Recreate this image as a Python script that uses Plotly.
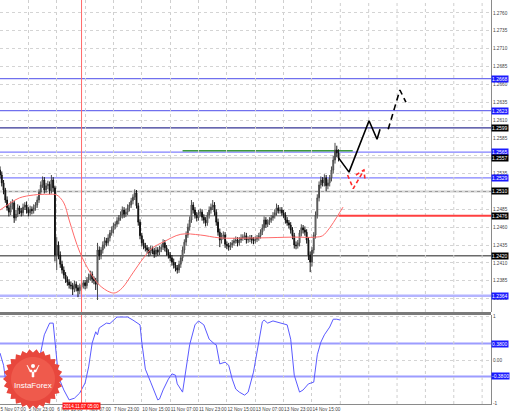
import math
import plotly.graph_objects as go

# ---------------- data ----------------
closes = [1.2533,1.2522,1.2512,1.2498,1.2487,1.2481,1.2490,1.2494,1.2473,1.2478,1.2487,1.2483,
          1.2480,1.2488,1.2491,1.2484,1.2480,1.2485,1.2483,1.2487,1.2491,1.2498,1.2509,1.2519,
          1.2526,1.2512,1.2518,1.2520,1.2511,1.2526,1.2515,1.2421,1.2435,1.2421,1.2408,1.2400,
          1.2393,1.2387,1.2383,1.2379,1.2378,1.2373,1.2380,1.2375,1.2371,1.2376,1.2379,1.2382,
          1.2378,1.2386,1.2390,1.2394,1.2387,1.2385,1.2380,1.2428,1.2420,1.2428,1.2435,1.2441,
          1.2438,1.2445,1.2452,1.2456,1.2462,1.2464,1.2469,1.2473,1.2477,1.2484,1.2478,1.2481,
          1.2487,1.2491,1.2497,1.2502,1.2508,1.2490,1.2467,1.2448,1.2438,1.2434,1.2431,1.2428,
          1.2424,1.2429,1.2427,1.2422,1.2428,1.2425,1.2429,1.2432,1.2438,1.2431,1.2425,1.2421,
          1.2417,1.2411,1.2407,1.2403,1.2400,1.2408,1.2417,1.2428,1.2439,1.2449,1.2460,1.2470,
          1.2491,1.2484,1.2477,1.2473,1.2480,1.2481,1.2474,1.2470,1.2466,1.2477,1.2484,1.2488,
          1.2491,1.2481,1.2467,1.2453,1.2442,1.2448,1.2449,1.2436,1.2434,1.2432,1.2435,1.2438,
          1.2441,1.2442,1.2438,1.2442,1.2445,1.2446,1.2448,1.2442,1.2443,1.2445,1.2442,1.2441,
          1.2443,1.2445,1.2448,1.2453,1.2459,1.2470,1.2464,1.2467,1.2470,1.2473,1.2476,1.2480,
          1.2487,1.2483,1.2484,1.2480,1.2477,1.2470,1.2466,1.2463,1.2456,1.2448,1.2435,1.2434,
          1.2438,1.2452,1.2459,1.2456,1.2453,1.2442,1.2421,1.2411,1.2428,1.2449,1.2477,1.2501,
          1.2519,1.2526,1.2522,1.2529,1.2518,1.2522,1.2529,1.2540,1.2554,1.2568,1.2564,1.2557]

opens = [1.2540,1.2533,1.2522,1.2512,1.2498,1.2487,1.2481,1.2490,1.2494,1.2473,1.2478,1.2487,
         1.2483,1.2480,1.2488,1.2491,1.2484,1.2480,1.2485,1.2483,1.2487,1.2491,1.2498,1.2509,
         1.2519,1.2526,1.2512,1.2518,1.2520,1.2511,1.2526,1.2515,1.2421,1.2435,1.2421,1.2408,
         1.2400,1.2393,1.2387,1.2383,1.2379,1.2378,1.2373,1.2380,1.2375,1.2371,1.2376,1.2379,
         1.2382,1.2378,1.2386,1.2390,1.2394,1.2387,1.2385,1.2380,1.2428,1.2420,1.2428,1.2435,
         1.2441,1.2438,1.2445,1.2452,1.2456,1.2462,1.2464,1.2469,1.2473,1.2477,1.2484,1.2478,
         1.2481,1.2487,1.2491,1.2497,1.2502,1.2508,1.2490,1.2467,1.2448,1.2438,1.2434,1.2431,
         1.2428,1.2424,1.2429,1.2427,1.2422,1.2428,1.2425,1.2429,1.2432,1.2438,1.2431,1.2425,
         1.2421,1.2417,1.2411,1.2407,1.2403,1.2400,1.2408,1.2417,1.2428,1.2439,1.2449,1.2460,
         1.2470,1.2491,1.2484,1.2477,1.2473,1.2480,1.2481,1.2474,1.2470,1.2466,1.2477,1.2484,
         1.2488,1.2491,1.2481,1.2467,1.2453,1.2442,1.2448,1.2449,1.2436,1.2434,1.2432,1.2435,
         1.2438,1.2441,1.2442,1.2438,1.2442,1.2445,1.2446,1.2448,1.2442,1.2443,1.2445,1.2442,
         1.2441,1.2443,1.2445,1.2448,1.2453,1.2459,1.2470,1.2464,1.2467,1.2470,1.2473,1.2476,
         1.2480,1.2487,1.2483,1.2484,1.2480,1.2477,1.2470,1.2466,1.2463,1.2456,1.2448,1.2435,
         1.2434,1.2438,1.2452,1.2459,1.2456,1.2453,1.2442,1.2421,1.2411,1.2428,1.2449,1.2477,
         1.2501,1.2519,1.2526,1.2522,1.2529,1.2518,1.2522,1.2529,1.2540,1.2554,1.2568,1.2564]

highs = [1.2545,1.2538,1.2526,1.2515,1.2503,1.2492,1.2496,1.2499,1.2497,1.2484,1.2492,1.2490,
         1.2487,1.2493,1.2495,1.2496,1.2488,1.2490,1.2489,1.2492,1.2495,1.2503,1.2513,1.2524,
         1.2531,1.2530,1.2522,1.2525,1.2524,1.2533,1.2530,1.2518,1.2446,1.2440,1.2426,1.2413,
         1.2405,1.2397,1.2391,1.2387,1.2384,1.2382,1.2385,1.2384,1.2379,1.2381,1.2383,1.2386,
         1.2386,1.2390,1.2395,1.2399,1.2398,1.2391,1.2389,1.2438,1.2433,1.2432,1.2440,1.2446,
         1.2445,1.2450,1.2456,1.2461,1.2466,1.2468,1.2474,1.2477,1.2482,1.2489,1.2488,1.2486,
         1.2492,1.2495,1.2501,1.2506,1.2513,1.2512,1.2494,1.2471,1.2452,1.2443,1.2438,1.2435,
         1.2432,1.2434,1.2433,1.2431,1.2433,1.2432,1.2434,1.2436,1.2443,1.2442,1.2435,1.2429,
         1.2425,1.2421,1.2416,1.2411,1.2407,1.2413,1.2421,1.2433,1.2443,1.2454,1.2465,1.2475,
         1.2498,1.2495,1.2488,1.2481,1.2484,1.2486,1.2485,1.2478,1.2474,1.2481,1.2489,1.2493,
         1.2498,1.2495,1.2485,1.2472,1.2458,1.2452,1.2454,1.2453,1.2440,1.2438,1.2439,1.2442,
         1.2445,1.2447,1.2446,1.2446,1.2450,1.2450,1.2453,1.2452,1.2447,1.2449,1.2449,1.2446,
         1.2447,1.2449,1.2452,1.2457,1.2464,1.2475,1.2474,1.2471,1.2474,1.2477,1.2481,1.2485,
         1.2493,1.2491,1.2488,1.2488,1.2484,1.2481,1.2474,1.2470,1.2467,1.2460,1.2452,1.2440,
         1.2442,1.2456,1.2464,1.2463,1.2461,1.2457,1.2446,1.2426,1.2432,1.2453,1.2482,1.2506,
         1.2524,1.2531,1.2530,1.2534,1.2533,1.2527,1.2533,1.2545,1.2560,1.2578,1.2574,1.2569]

lows = [1.2528,1.2517,1.2506,1.2494,1.2483,1.2475,1.2477,1.2485,1.2466,1.2469,1.2474,1.2478,
        1.2475,1.2476,1.2484,1.2479,1.2475,1.2476,1.2478,1.2479,1.2483,1.2487,1.2494,1.2505,
        1.2515,1.2507,1.2508,1.2513,1.2506,1.2507,1.2510,1.2412,1.2400,1.2415,1.2403,1.2395,
        1.2388,1.2382,1.2378,1.2374,1.2373,1.2365,1.2369,1.2370,1.2362,1.2366,1.2372,1.2374,
        1.2373,1.2374,1.2382,1.2385,1.2382,1.2380,1.2372,1.2358,1.2414,1.2415,1.2423,1.2430,
        1.2433,1.2434,1.2440,1.2448,1.2451,1.2457,1.2460,1.2464,1.2469,1.2472,1.2473,1.2474,
        1.2477,1.2482,1.2487,1.2492,1.2498,1.2486,1.2462,1.2443,1.2433,1.2429,1.2426,1.2423,
        1.2419,1.2420,1.2422,1.2417,1.2418,1.2420,1.2421,1.2425,1.2428,1.2426,1.2420,1.2416,
        1.2412,1.2406,1.2402,1.2398,1.2395,1.2396,1.2403,1.2412,1.2423,1.2434,1.2445,1.2455,
        1.2466,1.2479,1.2472,1.2468,1.2469,1.2475,1.2469,1.2465,1.2461,1.2462,1.2472,1.2479,
        1.2484,1.2476,1.2462,1.2448,1.2432,1.2437,1.2443,1.2431,1.2429,1.2427,1.2428,1.2431,
        1.2434,1.2437,1.2433,1.2434,1.2438,1.2441,1.2442,1.2437,1.2438,1.2439,1.2437,1.2436,
        1.2437,1.2439,1.2441,1.2444,1.2449,1.2455,1.2459,1.2460,1.2463,1.2466,1.2469,1.2472,
        1.2476,1.2479,1.2479,1.2476,1.2473,1.2465,1.2462,1.2458,1.2451,1.2443,1.2430,1.2429,
        1.2430,1.2433,1.2447,1.2451,1.2448,1.2437,1.2414,1.2397,1.2405,1.2423,1.2444,1.2472,
        1.2496,1.2514,1.2517,1.2517,1.2510,1.2513,1.2517,1.2524,1.2535,1.2549,1.2558,1.2552]

bars = list(range(len(closes)))

# red moving-average curve
ma_x = [0, 6, 11, 19, 27, 32, 36, 39, 45, 51, 56, 62, 65, 69, 75, 81, 86, 92, 102, 113,
        124, 147, 165, 178, 182, 186, 190, 193.5]
ma_y = [1.2484, 1.2494, 1.2501, 1.2505, 1.2506, 1.2505, 1.2494, 1.2470, 1.2425, 1.2396,
        1.2379, 1.2369, 1.2368, 1.2375, 1.2396, 1.2417, 1.2431, 1.2439, 1.2450, 1.2449,
        1.2445, 1.2445, 1.2446, 1.2446, 1.2448, 1.2459, 1.2474, 1.2488]

# oscillator (lower panel)
osc_x = [0, 2, 3, 6, 8, 11, 14, 17, 20, 23, 25, 28, 30, 31, 33, 36, 39, 42, 45, 48, 50, 52,
         54, 55, 56, 60, 62, 66, 72, 75, 79, 80, 82, 85, 89, 90, 92, 95, 97, 99, 100, 103,
         104, 107, 110, 112, 115, 118, 121, 122, 124, 127, 129, 131, 133, 135, 138, 140, 143,
         146, 148, 149, 151, 154, 158, 162, 164, 166, 169, 171, 174, 177, 179, 181, 183, 186,
         188, 190, 192]
osc_y = [0.16, -0.12, -0.41, -0.69, -0.85, -0.90, -0.81, -0.53, -0.18, 0.18, 0.58, 0.85,
         0.85, 0.39, -0.39, -0.69, -0.92, -0.88, -0.76, -0.53, -0.16, 0.39, 0.65, 0.58, 0.74,
         0.85, 0.84, 0.99, 0.99, 0.92, 0.81, 0.41, -0.21, -0.51, -0.92, -0.90, -0.69, -0.44,
         -0.32, -0.35, -0.55, -0.74, -0.44, 0.35, 0.81, 0.90, 0.81, 0.48, 0.37, 0.35, -0.09,
         -0.05, -0.12, -0.44, -0.67, -0.74, -0.81, -0.74, -0.28, 0.41, 0.88, 0.92, 0.85, 0.90,
         0.85, 0.81, 0.48, -0.35, -0.74, -0.69, -0.55, -0.51, 0.12, 0.41, 0.58, 0.76, 0.94,
         0.94, 0.92]
osc_levels = [0.38, -0.38]
osc_level_text = ["0.3800", "-0.3800"]

# horizontal levels
blue_levels = [1.2668, 1.2623, 1.2565, 1.2529]
navy_level = 1.2599
support_level = 1.2364
gray_levels = [1.2510, 1.2476, 1.2420]
red_level = 1.2476
red_level_start = 191
green_level = 1.2567
green_start, green_end = 103, 199
bid_price = 1.2557

# forecast drawings
fc_solid_x = [191, 196.9, 208.2, 212.7, 214.4]
fc_solid_y = [1.2557, 1.2537, 1.2609, 1.2583, 1.2597]
fc_dash_x = [219.0, 225.6, 229.0]
fc_dash_y = [1.2597, 1.2652, 1.2635]
fc_red_x = [196.1, 199.3, 205.3]
fc_red_y = [1.2533, 1.2514, 1.2540]
fc_red_head_x = [200.8, 205.3, 205.9]
fc_red_head_y = [1.2533, 1.2540, 1.2527]

# axes
time_ticks = [0, 16, 32, 48, 64, 80, 96, 112, 128, 144, 160, 176]
time_labels = ["5 Nov 07:00", "5 Nov 23:00", "6 Nov 15:00", "7 Nov 07:00", "7 Nov 23:00",
               "10 Nov 15:00", "11 Nov 07:00", "11 Nov 23:00", "12 Nov 15:00",
               "13 Nov 07:00", "13 Nov 23:00", "14 Nov 15:00"]
future_grid = [192, 208, 224, 240, 256, 272]
price_ticks = [1.2760, 1.2735, 1.2710, 1.2685, 1.2660, 1.2635, 1.2610, 1.2585, 1.2560,
               1.2535, 1.2510, 1.2485, 1.2460, 1.2435, 1.2410, 1.2385, 1.2360]
marker_bar = 46
marker_label = "2014.11.07 05:00"

# ---------------- figure ----------------
W, H = 510, 413
ML, MR, MT, MB = 0, 19, 0, 9
PW, PH = W - ML - MR, H - MT - MB
FONT = "Liberation Sans"

def py2paper(py):
    return (PH - py) / PH

def px2paper(px):
    return px / PW

fig = go.Figure()

fig.add_trace(go.Candlestick(
    x=bars, open=opens, high=highs, low=lows, close=closes,
    increasing=dict(line=dict(color="#4a4a4a", width=1), fillcolor="#c0c0c0"),
    decreasing=dict(line=dict(color="#111111", width=1), fillcolor="#111111"),
    whiskerwidth=0, xaxis="x", yaxis="y", showlegend=False, hoverinfo="skip"))

fig.add_trace(go.Scatter(x=ma_x, y=ma_y, mode="lines", line=dict(color="#ff6a6a", width=1, shape="spline"),
                         xaxis="x", yaxis="y", showlegend=False, hoverinfo="skip"))

fig.add_trace(go.Scatter(x=fc_solid_x, y=fc_solid_y, mode="lines", line=dict(color="#000000", width=1.6),
                         xaxis="x", yaxis="y", showlegend=False, hoverinfo="skip"))
fig.add_trace(go.Scatter(x=fc_dash_x, y=fc_dash_y, mode="lines", line=dict(color="#000000", width=1.6, dash="6px,4px"),
                         xaxis="x", yaxis="y", showlegend=False, hoverinfo="skip"))
fig.add_trace(go.Scatter(x=fc_red_x, y=fc_red_y, mode="lines", line=dict(color="#ff2a2a", width=1.6, dash="4px,3px"),
                         xaxis="x", yaxis="y", showlegend=False, hoverinfo="skip"))
fig.add_trace(go.Scatter(x=fc_red_head_x, y=fc_red_head_y, mode="lines", line=dict(color="#ff2a2a", width=1.6, dash="4px,3px"),
                         xaxis="x", yaxis="y", showlegend=False, hoverinfo="skip"))

fig.add_trace(go.Scatter(x=osc_x, y=osc_y, mode="lines", line=dict(color="#5a5aff", width=1),
                         xaxis="x2", yaxis="y2", showlegend=False, hoverinfo="skip"))

shapes = []
def hline(y, color, width, x0=None, x1=None, yref="y", dash=None):
    d = dict(type="line", yref=yref, y0=y, y1=y, line=dict(color=color, width=width))
    if dash:
        d["line"]["dash"] = dash
    if x0 is None:
        d.update(xref="paper", x0=0, x1=1)
    else:
        d.update(xref="x", x0=x0, x1=x1)
    d["layer"] = "below"
    shapes.append(d)

hline(bid_price, "#c8c8c8", 1)
for lv in blue_levels[:2]:
    hline(lv, "#7070ee", 1.2)
for lv in blue_levels[2:]:
    hline(lv, "#8080ff", 1.4)
hline(navy_level, "#343494", 1.4)
hline(support_level, "#b4b4ff", 2.5)
hline(gray_levels[0], "#9a9a9a", 1.5)
hline(gray_levels[1], "#9a9a9a", 1.5, x0=0, x1=red_level_start)
hline(gray_levels[2], "#6a6a6a", 1.5)
hline(red_level, "#ff4040", 2, x0=red_level_start, x1=277)
hline(green_level, "#3c9a3c", 1.5, x0=green_start, x1=green_end)
for lv in osc_levels:
    hline(lv, "#9c9cff", 2, yref="y2")

for gx in future_grid:
    for yr in ("y", "y2"):
        shapes.append(dict(type="line", xref="x", x0=gx, x1=gx, yref=yr + " domain", y0=0, y1=1,
                           line=dict(color="#cfcfcf", width=1, dash="dot"), layer="below"))

# red vertical marker
shapes.append(dict(type="line", xref="x", x0=marker_bar, x1=marker_bar, yref="paper", y0=0, y1=1,
                   line=dict(color="#ff6a6a", width=1), layer="above"))

# panel separator
shapes.append(dict(type="rect", xref="paper", x0=0, x1=1, yref="paper",
                   y0=py2paper(315), y1=py2paper(312), fillcolor="#7a7a7a", line=dict(width=0)))

# InstaForex logo (decoration)
cx, cy, R1, R2, NT = 33, 379, 30, 26.5, 26
pts = []
for k in range(2 * NT):
    a = math.pi * k / NT
    rr = R1 if k % 2 == 0 else R2
    pts.append((px2paper(cx + rr * math.cos(a)), py2paper(cy + rr * math.sin(a))))
path = "M " + " L ".join(f"{x:.5f},{y:.5f}" for x, y in pts) + " Z"
shapes.append(dict(type="path", xref="paper", yref="paper", path=path,
                   fillcolor="#e8473d", line=dict(width=0), layer="above"))
inner = []
for k in range(60):
    a = 2 * math.pi * k / 60
    inner.append((px2paper(cx + 22 * math.cos(a)), py2paper(cy + 22 * math.sin(a))))
shapes.append(dict(type="path", xref="paper", yref="paper",
                   path="M " + " L ".join(f"{x:.5f},{y:.5f}" for x, y in inner) + " Z",
                   fillcolor="#ef5a4c", line=dict(width=0), layer="above"))
# icon
shapes.append(dict(type="circle", xref="paper", yref="paper",
                   x0=px2paper(cx - 2), x1=px2paper(cx + 2), y0=py2paper(cy - 11), y1=py2paper(cy - 15),
                   fillcolor="white", line=dict(width=0), layer="above"))
icon = [(cx - 6, cy - 14), (cx - 3, cy - 9), (cx - 1, cy - 9), (cx - 1, cy - 2), (cx + 1, cy - 2),
        (cx + 1, cy - 9), (cx + 3, cy - 9), (cx + 6, cy - 14), (cx + 3, cy - 7), (cx - 3, cy - 7)]
shapes.append(dict(type="path", xref="paper", yref="paper",
                   path="M " + " L ".join(f"{px2paper(x):.5f},{py2paper(y):.5f}" for x, y in icon) + " Z",
                   fillcolor="white", line=dict(color="white", width=0.5), layer="above"))

annotations = []
annotations.append(dict(text="InstaForex", xref="paper", yref="paper", x=px2paper(cx), y=py2paper(cy + 6),
                        showarrow=False, font=dict(family=FONT, size=8, color="white"),
                        xanchor="center", yanchor="middle"))

def price_box(y, text, bg, yref="y"):
    annotations.append(dict(text=text, xref="paper", x=1.0, xanchor="left", yref=yref, y=y,
                            yanchor="middle", showarrow=False, bgcolor=bg, borderpad=0,
                            font=dict(family=FONT, size=5, color="white")))

for lv in blue_levels:
    price_box(lv, f"{lv:.4f}", "#1a1aff")
price_box(navy_level, f"{navy_level:.4f}", "#000000")
price_box(bid_price, f"{bid_price:.4f}", "#000000")
for lv in gray_levels:
    price_box(lv, f"{lv:.4f}", "#000000")
price_box(support_level, f"{support_level:.4f}", "#1a1aff")
for lv, tx in zip(osc_levels, osc_level_text):
    price_box(lv, tx, "#1a1aff", yref="y2")

annotations.append(dict(text=marker_label, xref="x", x=marker_bar, xanchor="center",
                        yref="paper", y=py2paper(406.5), yanchor="middle", showarrow=False,
                        bgcolor="#ff1a1a", borderpad=0.5, font=dict(family=FONT, size=4.6, color="white")))

axis_font = dict(family=FONT, size=4.7, color="#444444")
fig.update_layout(
    width=W, height=H, margin=dict(l=ML, r=MR, t=MT, b=MB),
    paper_bgcolor="white", plot_bgcolor="white", showlegend=False,
    xaxis=dict(domain=[0, 1], anchor="y", range=[0, 277], tickvals=time_ticks, showticklabels=False,
               showgrid=True, gridcolor="#cfcfcf", griddash="dot", gridwidth=1, zeroline=False,
               rangeslider=dict(visible=False), ticks=""),
    xaxis2=dict(domain=[0, 1], anchor="y2", matches="x", range=[0, 277], tickvals=time_ticks,
                ticktext=time_labels, showgrid=True, gridcolor="#cfcfcf", griddash="dot",
                zeroline=False, ticks="", tickfont=axis_font, ticklabelposition="outside right",
                showline=True, linecolor="#8a8a8a", linewidth=1, tickangle=0),
    yaxis=dict(domain=[py2paper(312), 1], anchor="x", side="right", range=[1.23412, 1.2778],
               tickvals=price_ticks, ticktext=[f"{v:.4f}" for v in price_ticks], tickfont=axis_font,
               showgrid=True, gridcolor="#d4d4d4", griddash="dot", zeroline=False, ticks="",
               showline=True, linecolor="#8a8a8a", linewidth=1),
    yaxis2=dict(domain=[0, py2paper(315)], anchor="x2", side="right", range=[-1.014, 1.037],
                tickvals=[1, 0, -1], ticktext=["1", "0.00", "-1"], tickfont=axis_font,
                showgrid=True, gridcolor="#d4d4d4", griddash="dot", zeroline=False, ticks="",
                showline=True, linecolor="#8a8a8a", linewidth=1),
    shapes=shapes, annotations=annotations,
)

fig.write_html("out.html", config={"displayModeBar": False},
               post_script="document.body.style.margin='0px';document.body.style.padding='0px';")
